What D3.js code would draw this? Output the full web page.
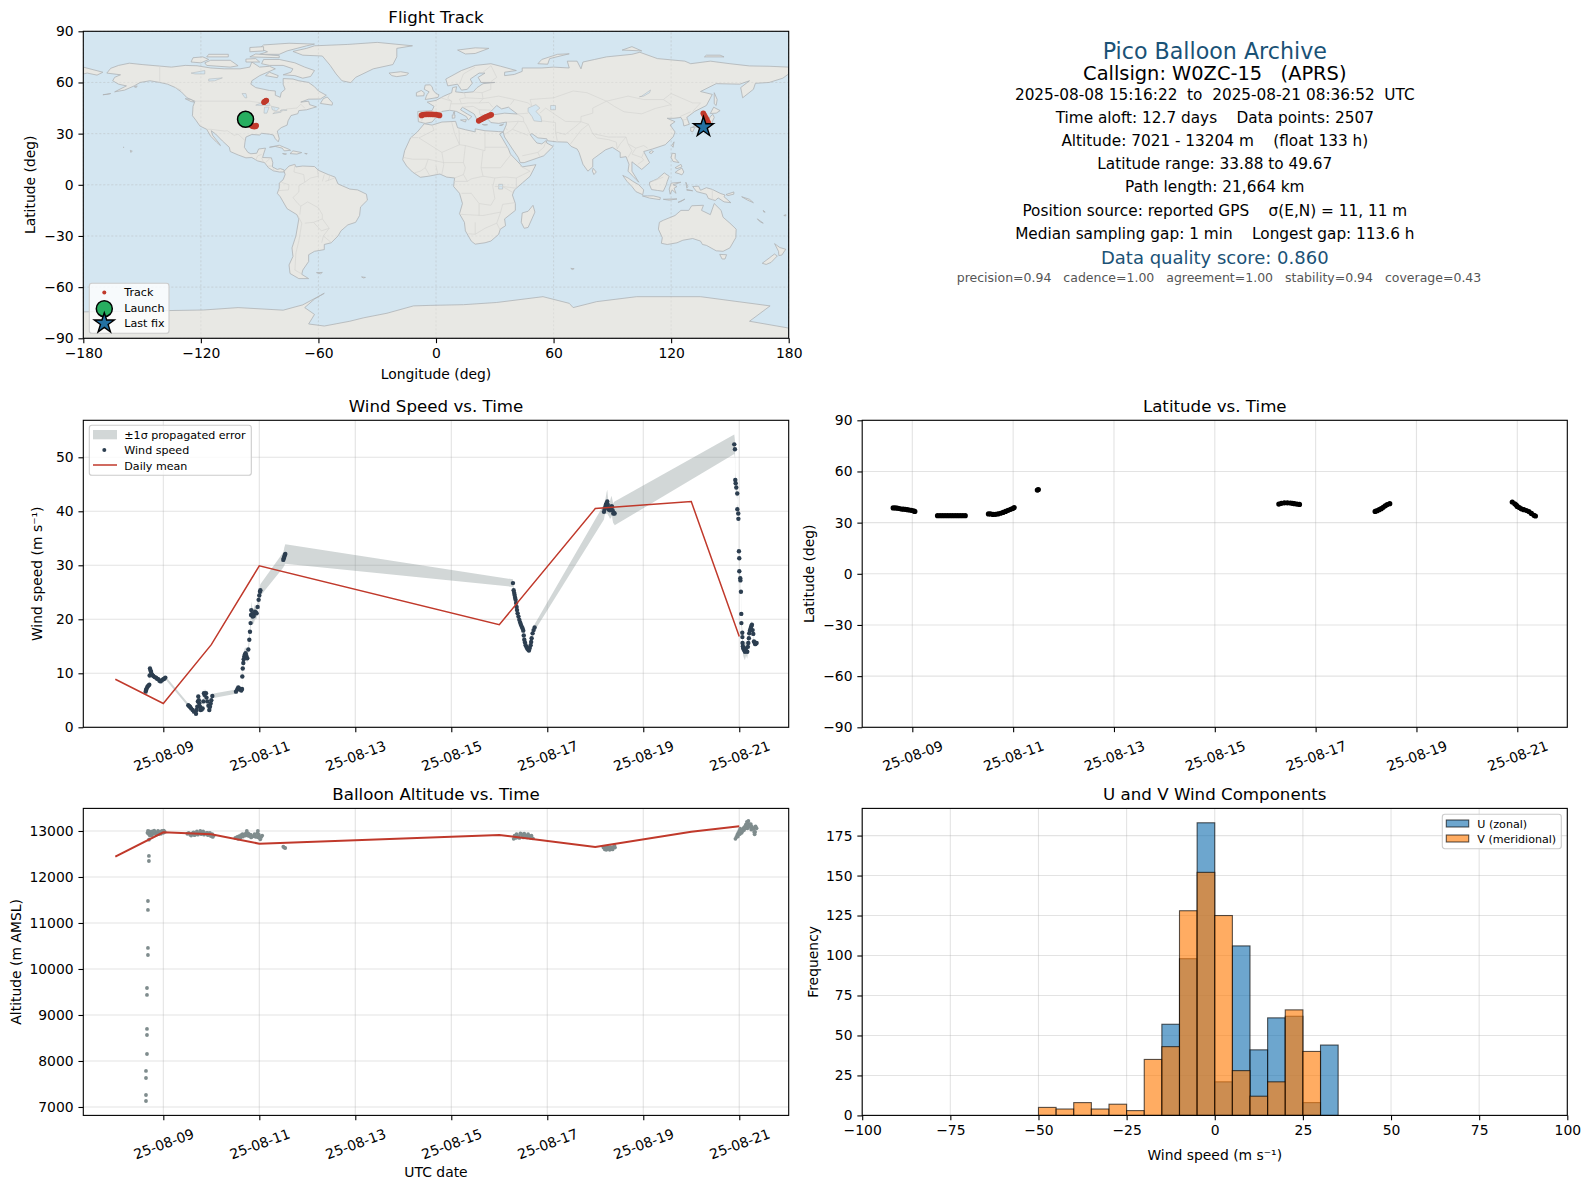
<!DOCTYPE html>
<html>
<head>
<meta charset="utf-8">
<script src="https://cdn.jsdelivr.net/npm/d3@7"></script>
<style>
  html, body { margin: 0; padding: 0; background: #fff; }
  svg { display: block; }
  text { font-family: "DejaVu Sans", sans-serif; fill: #000; }
</style>
</head>
<body>
<svg width="1590" height="1189"></svg>
<script>
// ---- data ----
var lonTicks = [-180, -120, -60, 0, 60, 120, 180]
var latTicks = [-90, -60, -30, 0, 30, 60, 90]
var windTicks = [0, 10, 20, 30, 40, 50]
var altTicks = [7000, 8000, 9000, 10000, 11000, 12000, 13000]
var histXTicks = [-100, -75, -50, -25, 0, 25, 50, 75, 100]
var histYTicks = [0, 25, 50, 75, 100, 125, 150, 175]
var dayTicks = [9, 11, 13, 15, 17, 19, 21]

var launchFix = [-97.2, 38.4]
var lastFix = [136.5, 33.9]

// [lon, lat]
var trackPoints = [
  [-97.5,38.5],[-96.5,37.8],[-95.5,36.8],[-94.6,35.4],[-94.2,34.8],[-93.6,34.3],[-93,34.2],[-92.4,34.2],[-92,34.4],[-91.8,34.8],
  [-87.8,48.4],[-87.4,48.8],[-87,49.1],[-86.6,49.4],
  [-7.4,40.7],[-6.8,41],[-6,41.2],[-5,41.3],[-4,41.3],[-3,41.3],[-2,41.3],[-1,41.2],[0,41.2],[1,40.9],[1.8,40.7],
  [21.8,37.5],[22.5,38],[23.2,38.4],[24,38.9],[24.8,39.4],[25.6,39.9],[26.5,40.3],[27.4,40.7],[28.2,41.1],
  [136.4,41.9],[136.8,41],[137.3,40],[137.8,39],[138.2,38.1],[138.7,37],[139,36],[138.8,35.2],[138,34.6],[137.2,34.2],[136.5,33.9]
]

var landNorthAmerica = [[-168,65.5],[-166,68.3],[-162,70],[-156.5,71.3],[-150,70.5],[-141,69.6],[-135,69],[-128,70],[-122,69.8],[-115,68.5],[-108,68],[-100,68],[-95,69],[-94,72],[-90,69],[-85,69.5],[-82,68],[-86,66],[-90,64],[-94,61],[-94.5,59],[-92,57],[-85,55.3],[-82,55],[-82,52.5],[-79.5,51.3],[-79,54],[-77,56],[-78,59],[-78,62.3],[-73,62],[-70,61],[-65,60],[-62,57.5],[-60,55],[-56,52.5],[-59,50.3],[-65,50.2],[-69,48.5],[-65,49],[-64.5,47],[-61,45.7],[-66,44],[-70,43.5],[-70.5,41.7],[-74,40.6],[-75.5,37.5],[-76,35],[-79,33.5],[-81,31.5],[-80,27],[-80.5,25.2],[-82,27],[-83,29.2],[-85,29.7],[-89,30.2],[-90,29.2],[-94,29.5],[-97,28],[-97.5,25],[-97.8,22],[-96,19],[-94.5,18.2],[-91.5,18.5],[-90.5,21],[-87,21.5],[-88,18],[-88.5,16],[-84,15.8],[-83.3,13],[-83.5,10.5],[-81,9],[-79.5,9.5],[-77.5,8.7],[-77.5,7.5],[-80,7.5],[-83,8.2],[-85.5,10],[-87.5,13],[-91,14],[-94,16],[-97,15.8],[-101,17.5],[-105,19.5],[-105.5,22],[-109,25.7],[-112.5,29.8],[-114.7,31.7],[-114,29],[-110.5,24],[-110,23],[-112,25],[-115,28.5],[-117,32.5],[-120.5,34.5],[-122.5,37.8],[-124.3,40.5],[-124,46],[-123,49],[-127,51],[-130,54.5],[-133,57],[-137,59],[-141,60],[-146,61],[-151,60],[-154,58],[-159,55.5],[-164,54.5],[-158,58],[-162,59],[-165,61],[-164,63],[-161,64.5]]
var landSouthAmerica = [[-77.5,8],[-75,11],[-72,12],[-71.5,10.5],[-68,11],[-62,10.7],[-60,8.5],[-55,6],[-51.5,4.5],[-50,0.5],[-44,-2.5],[-40,-3],[-35.5,-5.5],[-35,-9],[-38.5,-13],[-39,-18],[-41,-22],[-45,-23.5],[-48.5,-27],[-50,-30],[-53.5,-34],[-57,-35],[-57,-38],[-62,-39],[-65,-41],[-65,-45],[-68,-50],[-68.5,-52.5],[-65,-55],[-70,-55],[-74.5,-52],[-75,-47],[-73,-42],[-73.5,-37],[-71.5,-30],[-70,-20],[-71,-17.5],[-76,-14],[-79.5,-7],[-81,-5],[-80,-2],[-80,1],[-78,3],[-77,6]]
var landAfrica = [[-6,35.8],[-2,35],[3,36.8],[10,37.2],[11,33.5],[15,32.3],[20,31],[20,32.8],[25,31.7],[32,31.2],[34.3,31],[32.5,29.8],[34,27],[37,21],[38,18],[43,12],[44,10.5],[51,11.8],[48,5],[44,1],[40,-3],[39,-6],[40.5,-11],[40.5,-15],[35,-20],[35.5,-24],[32.8,-26],[32,-29],[28,-33],[25,-34],[20,-34.8],[18,-33],[15,-27],[14.5,-22],[12,-17],[13.5,-11],[12,-5],[9,-1],[9.5,4],[5.5,4.5],[2,6.3],[-4,5],[-8,4.4],[-12,7.5],[-15,11],[-17,14.7],[-16,20],[-13,27.5],[-9.5,31]]
var landEurasia = [[-9,37],[-9.3,43],[-2,43.5],[-1,46],[-4.5,48.5],[0,49.5],[4,52],[8,54],[8.5,57],[10.5,57.5],[10,54.5],[14,54],[19,54.5],[21,57],[24,59.3],[30,60],[23,60],[21.5,63],[25,65.5],[22,65.5],[17.5,62],[18.5,59.5],[16,56],[13,55.5],[11,59],[6,58],[5,62],[13,67],[20,70],[28,71],[33,69.5],[41,67],[35,66],[35,64],[40,64.7],[44,66.5],[44,68.5],[54,68.5],[60,69],[68,68.5],[67,72.5],[72,72.5],[74,68],[75,72],[81,73.5],[87,75],[100,76.5],[104,77.7],[113,74],[127,72.5],[130,71],[140,72.5],[150,71],[160,69.7],[170,69.5],[180,69],[180,65],[177,62.5],[170,60],[163,59.5],[162,56],[156.5,51],[155.5,57],[160,61],[155,59],[143,59.3],[135,54.7],[141,53],[138,46.5],[132,43],[128,39.5],[129.3,35.5],[126.5,34.5],[126,37.5],[125,39.5],[121.5,39],[118,39],[122,37],[119.5,35],[122,31],[121,28],[117,23.5],[110.5,21],[106,19.5],[109,13],[105,9],[100,13.5],[100,8],[103.5,1.5],[100.5,5],[98,8],[98.5,12],[97,16.5],[94,16],[94,19],[90,22],[86.5,20.5],[80,15],[80,10.5],[77.5,8],[75,12],[73,19],[72,21],[69,22.5],[67,25],[61.5,25.2],[57,25.8],[56.5,27],[52,27.5],[49,30],[48,29.5],[50,26.5],[51.5,24.5],[54,24],[56.3,26],[56.5,24.5],[59.8,22.5],[55,17],[45,13],[43,13],[42,16],[39,21],[35,28],[34.3,31],[35.8,35],[36,36.8],[32,36],[28,36.5],[26.5,38.5],[26.5,40],[29,41],[35,42],[41.5,41.5],[38,44.5],[37,45.5],[33.5,44.5],[31,46.5],[28,43],[26,40.8],[23,40.3],[23.5,37.5],[21,38],[19.5,41.5],[13.5,45.5],[12.5,44],[16,41.5],[18.3,40],[16.5,38],[15.5,40],[10.5,43],[7,43.7],[3,43],[0,39.5],[-2,36.8],[-5.5,36]]
var landAustralia = [[114,-22],[116,-20.8],[122,-18],[125,-15],[129,-15],[130.5,-12.3],[136.5,-12],[135.5,-15],[140,-17.5],[142,-11],[145.5,-15],[146.5,-19],[150,-22.5],[153.2,-26],[153,-31],[150,-37],[146.5,-39],[143,-38.7],[138,-35.5],[136,-35],[135,-33],[131,-31.5],[126,-32.5],[123,-34],[118,-35],[115,-34.3],[115.5,-31],[113.5,-26]]
var landAntarctica = [[-180,-74.5],[-150,-74],[-118.6,-73.4],[-101,-72],[-78,-73.5],[-68,-70.4],[-57,-63.6],[-62,-67],[-67,-72],[-62,-76],[-65,-81.6],[-57,-82.8],[-44,-80],[-37,-78],[-25,-75.3],[-11.5,-71],[-3,-70.7],[14,-70.3],[31,-69],[54.6,-65.6],[68,-69.5],[70,-72],[82,-68.5],[102.4,-65.6],[135,-65.6],[170.5,-71],[160,-80],[180,-84],[180,-90],[-180,-90]]
var landGreenland = [[-73,78.2],[-68,76],[-58,75.5],[-54,70],[-51,65],[-48,61],[-43.5,59.9],[-41,63],[-32,68],[-22,70.5],[-20,75],[-20,80],[-12,81.5],[-30,83.5],[-45,82.3],[-62,81.5],[-66,80]]
var landIslands = [
  [[-80,73.5],[-72,71.5],[-67,69],[-62,67],[-64,63.5],[-68,62.5],[-72,64],[-78,64.5],[-74,66],[-73,68],[-78,70],[-85,70],[-89,71],[-88,73.5]],
  [[-117,70],[-105,69],[-101,69.8],[-105,73],[-115,73],[-118,71.5]],
  [[-125,72],[-120,71.5],[-116,73.5],[-119,75],[-124,74.5]],
  [[-90,76.5],[-80,76.5],[-76,78.5],[-66,81.5],[-62,82.5],[-75,83],[-88,82],[-90,80],[-86,78]],
  [[-95,75],[-80,74.5],[-80,75.7],[-92,76.7]],
  [[-117,75],[-106,75],[-106,76.5],[-116,76.5]],
  [[-95,78],[-88,78.5],[-88,81],[-95,80.5]],
  [[-97,72],[-90,72],[-92,74],[-97,73.7]],
  [[-87,64],[-81,62.8],[-80.5,64],[-85,66]],
  [[-59,47.7],[-53,46.7],[-52.8,48],[-55.5,51.5],[-57.5,50.5]],
  [[-128,50.5],[-125,50],[-123.5,48.5],[-125,48.8]],
  [[-24,65.5],[-18,66.3],[-14,65.5],[-15,64.3],[-20,63.4],[-22.5,64]],
  [[-5.5,50],[1,51.2],[1.5,52.8],[0,53.5],[-1.5,55.5],[-2,57.5],[-3,58.6],[-5.5,58.5],[-6,56],[-3.5,54.5],[-4.5,53],[-5,51.7]],
  [[-10,52],[-6.2,52.2],[-6,54],[-7.5,55.3],[-10,54]],
  [[11,79],[20,80.3],[27,80],[20,77],[15,76.7]],
  [[52,71],[57,70.7],[58,74],[68,76.8],[62,76.5],[54,73.5]],
  [[95,79],[105,78.5],[100,81]],
  [[137,75],[147,75],[145,76],[138,76]],
  [[142,54],[143.5,50],[143,46.5],[142,47.5],[142,52]],
  [[131,34],[133,35.5],[136,36],[137,37],[139,38],[140,40],[141.3,41.3],[142,39.5],[141,37],[140.8,35.5],[139,35],[136.5,34],[135,33.7]],
  [[140,41.8],[141.7,45.5],[145,43.5],[143,42]],
  [[130,33.7],[132,33.5],[131,31],[130,31.5]],
  [[120.3,23],[121.5,25.2],[121,22]],
  [[108.7,19],[110,20],[111,19.5],[109.8,18.3]],
  [[120,16],[120.5,18.5],[122.2,18.3],[122,15.5],[124,13],[121,13.7]],
  [[122,7.2],[123.5,8.5],[125.5,9.8],[126.5,7.5],[125.5,5.8],[124,6.5]],
  [[122,10],[125,12],[125.5,10.5],[123,9.5]],
  [[109,1.5],[111,2.5],[113,3.5],[116.5,7],[119,5],[118,2],[117.5,0],[116,-3.8],[113,-3.3],[110,-2.8],[109,0]],
  [[95.3,5.5],[98,4],[100.5,2],[103.5,0],[106,-3],[105.5,-5.8],[102,-4],[100,-1],[97.5,2]],
  [[105.3,-6.5],[108,-6.5],[111,-6.5],[114.5,-7.5],[114.3,-8.7],[109,-7.8]],
  [[119.5,-5.5],[119,-2.5],[120,1],[125,1.5],[121,0],[123,-1],[121.5,-2],[122.5,-5],[120.5,-3]],
  [[131,-1],[134,-0.8],[135,-3.2],[138,-1.7],[141,-2.7],[145,-5],[147.5,-6],[147,-7],[150.5,-10.5],[147,-10],[144,-7.7],[142.5,-9.2],[139,-8],[138,-5.5],[133,-4]],
  [[123.5,-10.3],[127,-8.4],[125,-9.8]],
  [[116,-8.5],[120,-8.3],[123,-8.3],[119,-9]],
  [[148,-5.7],[152,-4.2],[152,-5.5],[149,-6.3]],
  [[156,-7],[160,-8.5],[162,-10.5],[159,-9]],
  [[164,-20],[167,-22.5],[165.5,-21.8]],
  [[167,-15],[168,-16],[167.3,-16]],
  [[177.5,-18],[178.5,-17.5],[178.5,-18.3]],
  [[127.5,1.5],[128.5,-1],[128,-2]],
  [[128,-3.2],[131,-3.5],[128,-2.7]],
  [[79.8,8],[80.2,9.7],[81.8,7.5],[80.6,6]],
  [[44,-16.5],[47,-15.5],[49.5,-12],[50.5,-16],[47,-25],[45,-25.5],[43.5,-22]],
  [[144.8,-40.8],[148.3,-41],[147.5,-43.5],[146,-43.5]],
  [[172.8,-34.5],[175.5,-36.8],[178.5,-37.8],[176.5,-41.2],[175,-41.5],[174.8,-39]],
  [[172.7,-40.6],[174.2,-41.7],[171,-45.5],[168.5,-46.7],[166.5,-46],[170,-43]],
  [[-156,20.2],[-155,19.7],[-155.8,19]],
  [[-159.6,22],[-159.3,22.2],[-159.4,21.8]],
  [[-85,22],[-80,23.2],[-75,20.8],[-74.2,20.2],[-77.5,19.9],[-78.5,21.5],[-82,22.5]],
  [[-74.5,18.3],[-73,19.9],[-68.5,18.9],[-71,18]],
  [[-78.3,18.3],[-76.3,18.1],[-77,17.8]],
  [[-67,18.4],[-65.7,18.3],[-66,18]],
  [[-61,-51.5],[-58,-51.4],[-59,-52.2]],
  [[-38,-54],[-36,-54.3],[-37,-54.6]],
  [[68.8,-49],[70.5,-49.2],[69.5,-49.7]],
  [[12.5,38],[15.5,38.2],[15,36.8]],
  [[8.3,39],[8.3,41],[9.7,41],[9.6,39.2]],
  [[8.7,42],[9.4,43],[9.5,41.5]],
  [[23.6,35.4],[26.3,35.2],[24.7,34.9]],
  [[32.4,34.8],[34.5,35.6],[33.7,34.8]],
  [[-180,69],[-175,67.5],[-170,66],[-173,64.3],[-178,65.5],[-180,65]],
  [[-170,52.8],[-166,53.5],[-168,53]],
  [[-154,57.5],[-152.5,58],[-153,57]]
]
var inlandWaters = [
  [[47,45],[51,47],[53,45],[51,43],[53.5,40],[54,37],[50,37.5],[49,40],[47,43]],
  [[58.5,46.5],[61,46.5],[61,44],[58.5,44]],
  [[-92,46.7],[-88,48.5],[-85,47.8],[-84.7,46.5],[-87,46.5]],
  [[-87.8,42],[-86.3,42],[-85.2,45.5],[-87.5,45.5]],
  [[-84,46],[-80,45],[-81.5,43.2],[-83.5,44]],
  [[-83.3,41.7],[-79,42.6],[-79,43],[-82,42.6]],
  [[-79.5,43.4],[-76.2,43.6],[-76.2,44.2],[-79,43.9]],
  [[-99,53.5],[-97,53.5],[-96.5,51],[-97.5,51]],
  [[-125,65.5],[-118,67],[-118,65],[-123,65]],
  [[-116,62],[-109,62.7],[-113,61],[-116,60.8]],
  [[32,0.3],[34,0.3],[34,-2.5],[32,-2.5]],
  [[103.8,51.6],[105,52],[109.5,55.6],[109,54],[106,52]]
]
// rough country borders, as lines of [lon, lat]
var borderLines = [
  [[-141,60],[-141,69.6]],[[-133,57],[-130,55.5]],
  [[-123,49],[-95,49],[-89,48],[-84.5,46.5],[-82.5,45],[-82.5,42.5],[-79,43],[-76,44.5],[-71,45],[-69,47.3],[-67,45]],
  [[-117,32.5],[-114.7,32.5],[-108,31.5],[-106.5,31.7],[-103,29],[-101,29.7],[-97.5,26]],
  [[-92,14.5],[-91,17],[-89,17.8]],[[-89,15.8],[-88,13.2]],[[-84.5,15.7],[-87,13]],[[-85.7,11],[-83.7,11]],[[-83,8.5],[-82.8,9.6]],
  [[-72,12],[-72.5,7.5],[-67.5,6],[-67,1.5],[-70,-0.5],[-70,-4.2]],[[-78.8,1.4],[-75,0],[-75.3,-3],[-80.3,-3.4]],
  [[-70,-4.2],[-73,-7.5],[-70.5,-11],[-69,-12.5],[-69.5,-17.5]],[[-70.4,-18.3],[-68.5,-22.5],[-70,-33],[-71.5,-40],[-72,-50],[-68.5,-52.3]],
  [[-60.5,8.5],[-60,5],[-64,4],[-67,1.5]],[[-56.5,2],[-51.7,4]],[[-54,5.8],[-55,2.5]],[[-57,6],[-58,2]],
  [[-69,-12.5],[-65.5,-10],[-60,-13.5],[-58,-17.5],[-58,-20],[-62.5,-22],[-67,-22.5]],[[-58,-20],[-54.5,-25.5],[-58.5,-27],[-62.5,-22]],
  [[-54.5,-25.5],[-57.5,-30],[-53.5,-33.8]],[[-58.3,-34],[-57.5,-30]],
  [[-9,27.7],[-13,27.7]],[[-8.7,27.5],[-1,32],[-2,35]],[[-8.7,27.5],[3,19],[12,23.5],[9.5,30],[8,36.8]],[[12,23.5],[11.7,32.5]],
  [[12,23.5],[15,23],[25,20],[25,31.7]],[[25,22],[36.8,22]],[[15,23],[14,13],[15,10],[14,6],[16,2],[18,3.5],[24,5],[30,4],[34,4.5],[36,4.5],[41,4],[48,8],[43,11]],
  [[24,20],[23,10],[24,5]],[[23,10],[33,10],[36,14.5],[38.5,18]],[[3,19],[4,12],[3,6.3]],[[14,13],[4,13],[-4,15],[-5.5,10],[-8,8],[-11,7]],
  [[-4,15],[-12,15],[-16.5,16]],[[-5.5,10],[-3,5]],[[0,11],[1,6]],[[9.5,4],[14,6]],[[16,2],[9,2]],
  [[13,-5],[18,-5],[22,-11],[28,-12],[30,-8],[29,-1],[30,4]],[[12,-17.3],[24,-18],[33,-16],[34,-11.5],[40,-10.5]],[[22,-11],[22,-18]],
  [[34,-1],[41,-2],[41,4]],[[30,-1],[34,-1],[39.5,-4.7]],[[20,-29],[25,-25.5],[31,-22.5],[33,-16]],[[20,-22],[20,-29],[16.5,-28.7]],[[31,-22.5],[32.5,-26]],
  [[-9,42],[-6.5,42],[-7.3,37.2]],[[-1.7,43.3],[3,42.5]],[[2.5,51],[8,49],[7.5,47.5],[7,43.7]],[[7,53.3],[6,50.7],[8,49]],
  [[14.5,54],[15,51],[12,50.3],[13,47.5],[7.5,47.5]],[[15,51],[24,50.5],[23.5,54],[19,54.4]],[[24,50.5],[22,48],[16.5,48],[13,47.5]],
  [[22,48],[27,48.3],[29,45.4]],[[22,44],[22.5,41],[26,41]],[[28,41.5],[26,41]],[[13.5,45.5],[19,46],[22,44],[28,43.8]],
  [[12,59],[14,65],[20,69]],[[28,69.8],[24,66]],[[28,70],[31,63],[28,60.5]],[[24,50.5],[32,52],[40,50],[38,47]],[[23.5,54],[28,56],[28,59.5]],
  [[40,50],[47,48],[49,46]],[[47,42],[41.5,41.5]],[[41.5,41.5],[44.5,39.5],[44.8,37],[42,37.2],[36,36.8]],[[44.8,37],[46,35],[48,30]],
  [[42,37],[39,32.5],[35,29.5]],[[39,32.5],[47,29]],[[35.5,33],[36.5,32.3]],[[44,17],[52,19],[55,22],[56,25]],[[52,19],[53,16.5]],
  [[61,36.5],[61,31],[62,25]],[[61,31],[66,29.5],[71,34],[74,37],[77.8,35.5]],[[77.8,35.5],[74,32],[70,26],[68.5,23.7]],[[61,36.5],[54,37.5]],[[66,37.2],[71,37],[74,37]],
  [[53,42],[56,45],[61,41],[66,37.2]],[[49,46],[48,50],[60,51],[70,55],[77,54],[87,49]],[[87,49],[80,45],[80,42],[74,40],[74,37]],
  [[87,49],[98,52],[106,50],[116,50],[120,53.5],[127,50],[131,48],[135,48],[131,43]],[[87,49],[91,46],[96,42.8],[105,41.6],[112,44.8],[120,47],[116,50]],
  [[80,30],[88,28],[92,28],[97,28],[98,24],[102,21.5],[106,23],[108,21.5]],[[77.8,35.5],[80,30]],[[80,30],[82,27.5],[88,26.5]],[[88,26.5],[92,25],[92.5,21]],
  [[97,28],[94,24],[92.5,21]],[[98,24],[100,20],[98,16]],[[102,21.5],[100,18],[105,16],[106,14.5],[103,12]],[[106,19],[105,16]],
  [[124.5,40],[130,42.8]],[[126,38],[128.5,38.5]],[[141,-2.7],[141,-9]],[[110,1.8],[116,4.5]]
]

// wind speed samples: [day of August, m/s, sigma]
var windPoints = [
  [8.632,6.6,.4],[8.64,6.9,.4],[8.653,7.2,.4],[8.67,7.5,.4],[8.688,7.7,.4],[8.708,7.9,.4],[8.715,9.6,.8],[8.722,10.9,.9],[8.735,10.5,.7],[8.743,10.3,.6],[8.755,9.9,.5],[8.77,9.7,.4],[8.792,9.5,.4],[8.82,9.3,.3],[8.847,9.2,.3],[8.87,9,.3],[8.896,8.9,.3],[8.92,8.6,.3],[8.944,8.5,.3],[8.97,8.7,.3],[9,8.9,.3],[9.02,9,.3],[9.042,9.2,.3],
  [9.521,4.1,.3],[9.54,3.9,.3],[9.556,3.8,.3],[9.58,3.5,.3],[9.611,3.2,.3],[9.64,2.9,.3],[9.681,2.5,.3],[9.695,3.2,.4],[9.708,3.8,.5],[9.72,4.8,.6],[9.729,5.7,.6],[9.74,5,.5],[9.75,4.4,.4],[9.765,3.8,.4],[9.778,3.2,.3],[9.8,3.3,.3],[9.819,3.5,.4],[9.835,4.8,.6],[9.847,6.3,.8],[9.86,6,.7],[9.889,6.3,.7],[9.9,5.5,.6],[9.917,4.8,.5],[9.94,4,.4],[9.958,3.2,.4],[9.972,3.8,.4],[9.986,4.4,.4],[10,5,.4],[10.021,5.8,.4],
  [10.514,6.6,.4],[10.54,7,.4],[10.5625,7.4,.4],[10.58,7.2,.4],[10.597,7,.4],[10.625,6.8,.4],[10.64,7.1,.4],[10.646,9.4,.5],[10.655,10.9,.6],[10.667,11.9,.8],[10.675,12.6,1],[10.688,13.1,1.2],[10.7,13.5,1.2],[10.715,13.7,1.1],[10.73,13.2,.9],[10.75,12.8,.8],[10.771,14.4,.8],[10.792,16.2,.8],[10.806,17.7,.8],[10.819,19.3,1],[10.828,20.8,1.4],[10.833,21.7,1.6],[10.85,21,1.4],[10.861,20.5,1.4],[10.885,20.6,1.4],[10.91,21.4,1.4],[10.93,21.2,1.2],[10.944,21.1,1],[10.965,22.3,.9],[10.986,23.6,.9],[11,24.4,.9],[11.014,25.1,1],[11.022,25.4,1.1],
  [11.5,31,1.4],[11.51,31.3,1.5],[11.521,31.6,1.7],[11.532,31.9,1.7],[11.542,32.1,1.8],
  [16.285,26.7,.7],[16.299,25.4,.7],[16.31,24.9,.6],[16.319,24.5,.6],[16.33,24,.6],[16.34,23.6,.6],[16.35,23,.6],[16.361,22.3,.5],[16.37,21.7,.5],[16.382,21.1,.5],[16.4,20.5,.5],[16.417,19.9,.5],[16.435,19.4,.5],[16.451,19,.5],[16.47,18.6,.5],[16.486,18.3,.5],[16.5,17.9,.5],[16.51,17,.5],[16.521,16.2,.5],[16.535,15.7,.5],[16.549,15.2,.5],[16.565,14.9,.5],[16.583,14.6,.5],[16.6,14.4,.5],[16.618,14.2,.5],[16.635,14.7,.5],[16.653,15.2,.5],[16.664,15.8,.5],[16.674,16.5,.5],[16.694,17.4,.5],[16.715,18,.5],[16.736,18.5,.6],
  [18.181,39.9,1.4],[18.195,40.4,1.2],[18.21,40.8,1.2],[18.222,41.2,1.6],[18.235,41.5,2],[18.25,41.8,2.2],[18.26,41.2,1.8],[18.271,40.6,1.4],[18.285,40.3,1.2],[18.306,40.2,1.6],[18.32,40.5,1.8],[18.335,40.9,2],[18.347,40.9,1.6],[18.36,40.2,1.8],[18.375,39.6,1.8],[18.39,39.7,2],[18.403,39.6,2.2],
  [20.896,52.4,1.8],[20.91,51.5,1.6],[20.917,45.8,1.4],[20.925,45.2,1.2],[20.938,44.4,1.2],[20.958,43.3,1.1],[20.96,40.4,1],[20.979,39.6,.9],[20.982,38.6,.9],[20.993,32.6,.8],[21,31.3,.8],[21.001,28.9,.7],[21.021,27.6,.7],[21.024,27.2,.7],[21.035,25.1,.7],[21.042,21,.7],[21.044,19.3,.7],[21.063,17.5,.8],[21.065,16.7,.9],[21.068,15.6,1],[21.075,15,1.2],[21.083,14.6,1.4],[21.1,14.3,1.5],[21.118,14,1.6],[21.14,14.6,1.3],[21.167,14,1.3],[21.18,14.9,1],[21.188,15.6,.9],[21.2,16.5,.8],[21.208,17.4,.8],[21.222,17.9,.7],[21.236,18.3,.7],[21.25,18.7,.7],[21.264,19,.7],[21.278,18,.6],[21.292,17.3,.5],[21.306,15.9,.4],[21.32,15.7,.4],[21.333,15.4,.4],[21.347,15.5,.4],[21.361,15.6,.4]
]
var dailyDays = [8, 9, 10, 11, 16, 18, 20, 21]
var dailyWind = [8.9, 4.4, 15.3, 29.9, 19, 40.5, 41.8, 16.8]
var dailyAlt = [12442, 12971, 12927, 12725, 12913, 12652, 12985, 13101]

// [day of August, latitude]
var latPoints = [
  [8.62,38.6],[8.66,38.6],[8.7,38.5],[8.74,38.3],[8.78,38],[8.82,37.9],[8.86,37.8],[8.9,37.6],[8.94,37.4],[8.98,37.2],[9.02,36.9],[9.05,36.6],
  [9.5,34.1],[9.55,34.1],[9.6,34.1],[9.65,34.1],[9.7,34.1],[9.75,34.1],[9.8,34.1],[9.85,34.1],[9.9,34.1],[9.95,34.1],[10,34.1],[10.05,34.1],
  [10.51,35.1],[10.55,35.1],[10.6,34.8],[10.65,34.9],[10.7,35.1],[10.75,35.5],[10.8,36],[10.85,36.6],[10.9,37.2],[10.95,37.8],[10.99,38.3],[11.02,38.8],
  [11.48,49.1],[11.5,49.4],
  [16.27,40.9],[16.32,41.3],[16.38,41.6],[16.44,41.6],[16.5,41.5],[16.54,41.3],[16.58,41.1],[16.63,40.9],[16.68,40.7],
  [18.18,36.6],[18.22,37],[18.26,37.6],[18.3,38.2],[18.34,39],[18.38,39.9],[18.42,40.6],[18.47,41.1],
  [20.9,42.1],[20.95,41],[20.98,40.3],[21,39.5],[21.04,38.8],[21.08,38.1],[21.13,37.6],[21.18,37.1],[21.23,36.5],[21.28,35.4],[21.33,34.3],[21.36,33.9]
]

// [day of August, metres]
var altPoints = [
  [8.639,7130],[8.639,7261],[8.639,7630],[8.639,7783],[8.66,8152],[8.66,8565],[8.66,8696],[8.66,9435],[8.66,9587],[8.68,10304],[8.68,10457],[8.68,11283],[8.68,11478],[8.7,12348],[8.7,12457],[8.7,12812],
  [8.67,12960],[8.69,12940],[8.71,12990],[8.73,12930],[8.75,12950],[8.77,12990],[8.8,12950],[8.83,12980],[8.86,12960],[8.89,13000],[8.91,12950],[8.94,12980],[8.97,13000],[9,12960],[9.03,12980],
  [8.68,13000],[8.72,12900],[8.76,12910],[8.81,13010],[8.85,12920],[8.9,12930],[8.95,12940],[9.01,13010],
  [9.5,12940],[9.53,12960],[9.56,12920],[9.6,12950],[9.63,12970],[9.67,12930],[9.7,12990],[9.74,12950],[9.77,13000],[9.8,12960],[9.83,12990],[9.86,12950],[9.9,12960],[9.93,12910],[9.96,12930],[9.99,12890],[10.02,12930],[10.05,12900],
  [9.58,12900],[9.65,12910],[9.72,12920],[9.79,12930],[9.85,12920],[9.92,12960],[9.97,12960],[10.03,12870],
  [10.5,12850],[10.54,12870],[10.58,12890],[10.62,12910],[10.65,12930],[10.68,12920],[10.72,12950],[10.74,13000],[10.77,12950],[10.79,12890],[10.82,12920],[10.85,12880],[10.88,12890],[10.91,12880],[10.94,12870],[10.96,12950],[10.97,13000],[10.99,12920],[11,12860],[11.02,12820],[11.04,12870],[11.06,12900],
  [10.56,12830],[10.61,12860],[10.66,12880],[10.71,12900],[10.76,12900],[10.83,12860],[10.9,12930],[10.98,12860],
  [11.5,12660],[11.52,12640],[11.54,12630],
  [16.3,12830],[16.32,12900],[16.36,12930],[16.4,12890],[16.44,12950],[16.48,12890],[16.52,12940],[16.56,12900],[16.6,12930],[16.64,12860],[16.67,12900],[16.7,12840],
  [16.34,12850],[16.38,12860],[16.42,12850],[16.46,12930],[16.5,12860],[16.54,12870],[16.58,12860],[16.62,12880],[16.66,12850],
  [18.17,12640],[18.2,12600],[18.23,12590],[18.27,12620],[18.3,12590],[18.34,12620],[18.37,12650],[18.4,12680],[18.41,12640],
  [18.19,12650],[18.22,12630],[18.25,12650],[18.29,12640],[18.32,12650],[18.36,12600],
  [20.92,12830],[20.94,12870],[20.96,12920],[20.98,12960],[21,13000],[21.02,13050],[21.05,12960],[21.07,13000],[21.09,13060],[21.11,13090],[21.14,13145],[21.16,13200],[21.19,13217],[21.21,13150],[21.24,13150],[21.26,13100],[21.28,13060],[21.3,13050],[21.31,12980],[21.32,12928],[21.33,12980],[21.25,13030],[21.17,13060],[21.36,13060],
  [20.97,12880],[21.01,12930],[21.04,13020],[21.1,13020],[21.13,13060],[21.15,13120],[21.18,13130],[21.22,13090],[21.34,13100]
]

var histBinEdges = [-50,-45,-40,-35,-30,-25,-20,-15,-10,-5,0,5,10,15,20,25,30,35]
var uCounts = [0,0,0,0,0,0,0,57,98,183,21,106,41,61,62,8,44]
var vCounts = [5,4,8,4,7,3,35,43,128,152,125,28,12,21,66,40,0]

var infoLines = [
  ["Pico Balloon Archive", 22.2, "#1a5276", 50.5, 1214.8],
  ["Callsign: W0ZC-15   (APRS)", 19.4, "#000", 73, 1214.8],
  ["2025-08-08 15:16:22  to  2025-08-21 08:36:52  UTC", 15.3, "#000", 95, 1214.8],
  ["Time aloft: 12.7 days    Data points: 2507", 15.3, "#000", 118.2, 1214.8],
  ["Altitude: 7021 - 13204 m    (float 133 h)", 15.3, "#000", 141, 1214.8],
  ["Latitude range: 33.88 to 49.67", 15.3, "#000", 164, 1214.8],
  ["Path length: 21,664 km", 15.3, "#000", 187, 1214.8],
  ["Position source: reported GPS    \u03c3(E,N) = 11, 11 m", 15.3, "#000", 210.5, 1214.8],
  ["Median sampling gap: 1 min    Longest gap: 113.6 h", 15.3, "#000", 233.5, 1214.8],
  ["Data quality score: 0.860", 18, "#1a5276", 257, 1214.8],
  ["precision=0.94   cadence=1.00   agreement=1.00   stability=0.94   coverage=0.43", 12.5, "#555", 277.5, 1219]
]

// ---- drawing ----
var RED = "#c0392b", TICK_FONT = 13.9, GRID = "#b0b0b0"
var svg = d3.select("svg")
var X1 = [83.3, 788.7], X2 = [862.2, 1567.3]
var ROW1 = [338.3, 31.3], ROW2 = [727.3, 420.3], ROW3 = [1115.4, 808.4]
var clipId = 0

function aug(d) { return new Date(Date.UTC(2025, 7, 1) + (d - 1) * 864e5) }
function minus(s) { return String(s).replace("-", "\u2212") }

function panel(x, y, title, opts) {
  var g = svg.append("g")
  var id = "clip" + (clipId++)
  var r = { g: g, x: x, y: y }
  g.append("clipPath").attr("id", id).append("rect")
    .attr("x", x.range()[0]).attr("y", y.range()[1])
    .attr("width", x.range()[1] - x.range()[0]).attr("height", y.range()[0] - y.range()[1])
  r.grid = g.append("g")
  r.plot = g.append("g").attr("clip-path", "url(#" + id + ")")
  r.top = g.append("g")
  g.append("text").attr("x", (x.range()[0] + x.range()[1]) / 2).attr("y", y.range()[1] - 8.3)
    .attr("text-anchor", "middle").attr("font-size", 16.67).text(title)

  // grid lines
  var dash = opts.dash || null, gridOp = opts.gridOpacity || 0.35
  opts.xt.forEach(function(t) {
    r.grid.append("line").attr("x1", x(t)).attr("x2", x(t)).attr("y1", y.range()[0]).attr("y2", y.range()[1])
      .attr("stroke", GRID).attr("stroke-opacity", gridOp).attr("stroke-width", opts.gridW || 1.1).attr("stroke-dasharray", dash)
  })
  opts.yt.forEach(function(t) {
    r.grid.append("line").attr("y1", y(t)).attr("y2", y(t)).attr("x1", x.range()[0]).attr("x2", x.range()[1])
      .attr("stroke", GRID).attr("stroke-opacity", gridOp).attr("stroke-width", opts.gridW || 1.1).attr("stroke-dasharray", dash)
  })
  return r
}

function finishAxes(r, opts) {
  var x = r.x, y = r.y
  var xa = d3.axisBottom(x).tickValues(opts.xt).tickSize(4.86).tickPadding(4.86).tickFormat(opts.xf || minus)
  var ya = d3.axisLeft(y).tickValues(opts.yt).tickSize(4.86).tickPadding(4.86).tickFormat(opts.yf || minus)
  var ax = r.g.append("g").attr("transform", "translate(0," + y.range()[0] + ")").call(xa)
  var ay = r.g.append("g").attr("transform", "translate(" + x.range()[0] + ",0)").call(ya)
  ;[ax, ay].forEach(function(a) {
    a.selectAll("text").attr("font-size", TICK_FONT).attr("font-family", "DejaVu Sans")
    a.selectAll("line").attr("stroke", "#000").attr("stroke-width", 1.1)
    a.select(".domain").remove()
  })
  if (opts.rotate) {
    ax.selectAll("text")
      .attr("y", 0).attr("dy", null).attr("dominant-baseline", "central")
      .attr("transform", "translate(0,28.5) rotate(-20)")
  }
  r.g.append("rect").attr("x", x.range()[0]).attr("y", y.range()[1])
    .attr("width", x.range()[1] - x.range()[0]).attr("height", y.range()[0] - y.range()[1])
    .attr("fill", "none").attr("stroke", "#000").attr("stroke-width", 1.1)
  if (opts.xlabel) {
    r.g.append("text").attr("x", (x.range()[0] + x.range()[1]) / 2).attr("y", opts.xlabelY)
      .attr("text-anchor", "middle").attr("font-size", TICK_FONT).text(opts.xlabel)
  }
  if (opts.ylabel) {
    var cy = (y.range()[0] + y.range()[1]) / 2
    r.g.append("text").attr("transform", "translate(" + opts.ylabelX + "," + cy + ") rotate(-90)")
      .attr("text-anchor", "middle").attr("font-size", TICK_FONT).text(opts.ylabel)
  }
}

function legendBox(r, x0, y0, x1, y1) {
  r.top.append("rect").attr("x", x0).attr("y", y0).attr("width", x1 - x0).attr("height", y1 - y0)
    .attr("rx", 2.6).attr("fill", "#fff").attr("fill-opacity", 0.8).attr("stroke", "#ccc").attr("stroke-width", 1.1)
}
function legendText(r, x, y, s) {
  r.top.append("text").attr("x", x).attr("y", y).attr("dominant-baseline", "central").attr("font-size", 11.1).text(s)
}

// --- flight track map
var lonX = d3.scaleLinear().domain([-180, 180]).range(X1)
var latY = d3.scaleLinear().domain([-90, 90]).range(ROW1)
var mapOpts = { xt: lonTicks, yt: latTicks, dash: "2,2", gridOpacity: 0.3, gridW: 0.7,
  xlabel: "Longitude (deg)", xlabelY: 379, ylabel: "Latitude (deg)", ylabelX: 35 }
var mapPanel = panel(lonX, latY, "Flight Track", mapOpts)
var geoLine = d3.line().x(function(d) { return lonX(d[0]) }).y(function(d) { return latY(d[1]) })
var allLand = [landNorthAmerica, landSouthAmerica, landAfrica, landEurasia, landAustralia, landAntarctica, landGreenland].concat(landIslands)

mapPanel.grid.insert("rect", ":first-child").attr("x", X1[0]).attr("y", ROW1[1])
  .attr("width", X1[1] - X1[0]).attr("height", ROW1[0] - ROW1[1]).attr("fill", "#d4e6f1")
mapPanel.plot.selectAll("path.land").data(allLand).enter().append("path").attr("class", "land")
  .attr("d", function(d) { return geoLine(d) + "Z" })
  .attr("fill", "#e8e8e4").attr("stroke", "#aeb3b5").attr("stroke-width", 0.8).attr("stroke-linejoin", "round")
mapPanel.plot.selectAll("path.water").data(inlandWaters).enter().append("path").attr("class", "water")
  .attr("d", function(d) { return geoLine(d) + "Z" })
  .attr("fill", "#d4e6f1").attr("stroke", "#aeb3b5").attr("stroke-width", 0.5)
mapPanel.plot.selectAll("path.border").data(borderLines).enter().append("path").attr("class", "border")
  .attr("d", geoLine).attr("fill", "none").attr("stroke", "#d6d6d2").attr("stroke-width", 0.7)
// grid runs over the land in the reference
lonTicks.forEach(function(t) {
  mapPanel.plot.append("line").attr("x1", lonX(t)).attr("x2", lonX(t)).attr("y1", ROW1[0]).attr("y2", ROW1[1])
    .attr("stroke", GRID).attr("stroke-opacity", 0.3).attr("stroke-width", 0.7).attr("stroke-dasharray", "2,2")
})
latTicks.forEach(function(t) {
  mapPanel.plot.append("line").attr("y1", latY(t)).attr("y2", latY(t)).attr("x1", X1[0]).attr("x2", X1[1])
    .attr("stroke", GRID).attr("stroke-opacity", 0.3).attr("stroke-width", 0.7).attr("stroke-dasharray", "2,2")
})
mapPanel.plot.selectAll("circle.track").data(trackPoints).enter().append("circle").attr("class", "track")
  .attr("cx", function(d) { return lonX(d[0]) }).attr("cy", function(d) { return latY(d[1]) })
  .attr("r", 2.8).attr("fill", RED)

var starPath = d3.symbol().type(d3.symbolStar).size(124)
mapPanel.plot.append("circle").attr("cx", lonX(launchFix[0])).attr("cy", latY(launchFix[1])).attr("r", 8)
  .attr("fill", "#27ae60").attr("stroke", "#000").attr("stroke-width", 1.5)
mapPanel.plot.append("path").attr("d", starPath()).attr("transform", "translate(" + lonX(lastFix[0]) + "," + latY(lastFix[1]) + ")")
  .attr("fill", "#2471a3").attr("stroke", "#000").attr("stroke-width", 1.4)

legendBox(mapPanel, 89.3, 283.3, 169, 333.3)
mapPanel.top.append("circle").attr("cx", 104.3).attr("cy", 292.5).attr("r", 2).attr("fill", RED)
mapPanel.top.append("circle").attr("cx", 104.3).attr("cy", 308.7).attr("r", 8).attr("fill", "#27ae60").attr("stroke", "#000").attr("stroke-width", 1.5)
mapPanel.top.append("path").attr("d", starPath()).attr("transform", "translate(104.3,323.3)").attr("fill", "#2471a3").attr("stroke", "#000").attr("stroke-width", 1.4)
legendText(mapPanel, 124.3, 292.5, "Track")
legendText(mapPanel, 124.3, 308.7, "Launch")
legendText(mapPanel, 124.3, 323.3, "Last fix")
finishAxes(mapPanel, mapOpts)

// --- info block
infoLines.forEach(function(l) {
  svg.append("text").attr("x", l[4]).attr("y", l[3]).attr("text-anchor", "middle")
    .attr("dominant-baseline", "central").attr("font-size", l[1]).attr("xml:space", "preserve")
    .style("white-space", "pre").style("fill", l[2]).text(l[0])
})

// --- wind speed
var dateX1 = d3.scaleUtc().domain([aug(7.333), aug(22.03)]).range(X1)
var dateFmt = d3.utcFormat("%y-%m-%d")
var dateTicks = dayTicks.map(aug)
var windY = d3.scaleLinear().domain([0, 56.85]).range(ROW2)
var windOpts = { xt: dateTicks, yt: windTicks, xf: dateFmt, rotate: true,
  ylabel: "Wind speed (m s\u207b\u00b9)", ylabelX: 42 }
var windPanel = panel(dateX1, windY, "Wind Speed vs. Time", windOpts)
var band = d3.area()
  .x(function(d) { return dateX1(aug(d[0])) })
  .y0(function(d) { return windY(d[1] - d[2]) })
  .y1(function(d) { return windY(d[1] + d[2]) })
windPanel.plot.append("path").attr("d", band(windPoints)).attr("fill", "#7f8c8d").attr("fill-opacity", 0.35)
windPanel.plot.selectAll("circle.w").data(windPoints).enter().append("circle").attr("class", "w")
  .attr("cx", function(d) { return dateX1(aug(d[0])) }).attr("cy", function(d) { return windY(d[1]) })
  .attr("r", 2.2).attr("fill", "#2c3e50")
var windMean = d3.line().x(function(d) { return dateX1(aug(d)) }).y(function(d, i) { return windY(dailyWind[i]) })
windPanel.plot.append("path").attr("d", windMean(dailyDays)).attr("fill", "none").attr("stroke", RED).attr("stroke-width", 1.5)
legendBox(windPanel, 89.3, 425.3, 251.3, 475.3)
windPanel.top.append("rect").attr("x", 93).attr("y", 430).attr("width", 24).attr("height", 9.3).attr("fill", "#7f8c8d").attr("fill-opacity", 0.35)
windPanel.top.append("circle").attr("cx", 104.3).attr("cy", 450).attr("r", 2).attr("fill", "#2c3e50")
windPanel.top.append("line").attr("x1", 93).attr("x2", 117).attr("y1", 465).attr("y2", 465).attr("stroke", RED).attr("stroke-width", 1.5)
legendText(windPanel, 124.3, 435, "\u00b11\u03c3 propagated error")
legendText(windPanel, 124.3, 450, "Wind speed")
legendText(windPanel, 124.3, 466, "Daily mean")
finishAxes(windPanel, windOpts)

// --- latitude
var dateX2 = d3.scaleUtc().domain([aug(8.006), aug(21.992)]).range(X2)
var latY2 = d3.scaleLinear().domain([-90, 90]).range(ROW2)
var latOpts = { xt: dateTicks, yt: latTicks, xf: dateFmt, rotate: true, ylabel: "Latitude (deg)", ylabelX: 814 }
var latPanel = panel(dateX2, latY2, "Latitude vs. Time", latOpts)
latPanel.plot.selectAll("circle").data(latPoints).enter().append("circle")
  .attr("cx", function(d) { return dateX2(aug(d[0])) }).attr("cy", function(d) { return latY2(d[1]) })
  .attr("r", 2.6).attr("fill", "#000")
finishAxes(latPanel, latOpts)

// --- altitude
var altY = d3.scaleLinear().domain([6817, 13491]).range(ROW3)
var altOpts = { xt: dateTicks, yt: altTicks, xf: dateFmt, yf: function(d) { return d }, rotate: true,
  xlabel: "UTC date", xlabelY: 1177, ylabel: "Altitude (m AMSL)", ylabelX: 21 }
var altPanel = panel(dateX1, altY, "Balloon Altitude vs. Time", altOpts)
altPanel.plot.selectAll("circle").data(altPoints).enter().append("circle")
  .attr("cx", function(d) { return dateX1(aug(d[0])) }).attr("cy", function(d) { return altY(d[1]) })
  .attr("r", 1.9).attr("fill", "#7f8c8d")
var altMean = d3.line().x(function(d) { return dateX1(aug(d)) }).y(function(d, i) { return altY(dailyAlt[i]) })
altPanel.plot.append("path").attr("d", altMean(dailyDays)).attr("fill", "none").attr("stroke", RED).attr("stroke-width", 2)
finishAxes(altPanel, altOpts)

// --- histogram
var histX = d3.scaleLinear().domain([-100, 100]).range(X2)
var histY = d3.scaleLinear().domain([0, 192]).range(ROW3)
var histOpts = { xt: histXTicks, yt: histYTicks, xlabel: "Wind speed (m s\u207b\u00b9)", xlabelY: 1160, ylabel: "Frequency", ylabelX: 818 }
var histPanel = panel(histX, histY, "U and V Wind Components", histOpts)
function bars(counts, color) {
  counts.forEach(function(c, i) {
    if (!c) return
    histPanel.plot.append("rect")
      .attr("x", histX(histBinEdges[i])).attr("width", histX(histBinEdges[i + 1]) - histX(histBinEdges[i]))
      .attr("y", histY(c)).attr("height", histY(0) - histY(c))
      .attr("fill", color).attr("fill-opacity", 0.65)
      .attr("stroke", "#000").attr("stroke-opacity", 0.65).attr("stroke-width", 1.1)
  })
}
bars(uCounts, "#1f77b4")
bars(vCounts, "#ff7f0e")
legendBox(histPanel, 1442.3, 814.3, 1561.3, 848.7)
histPanel.top.append("rect").attr("x", 1446.3).attr("y", 820).attr("width", 22.4).attr("height", 7)
  .attr("fill", "#1f77b4").attr("fill-opacity", 0.65).attr("stroke", "#000").attr("stroke-opacity", 0.65).attr("stroke-width", 1.1)
histPanel.top.append("rect").attr("x", 1446.3).attr("y", 835).attr("width", 22.4).attr("height", 7)
  .attr("fill", "#ff7f0e").attr("fill-opacity", 0.65).attr("stroke", "#000").attr("stroke-opacity", 0.65).attr("stroke-width", 1.1)
legendText(histPanel, 1477.3, 824.3, "U (zonal)")
legendText(histPanel, 1477.3, 839, "V (meridional)")
finishAxes(histPanel, histOpts)
</script>
</body>
</html>
